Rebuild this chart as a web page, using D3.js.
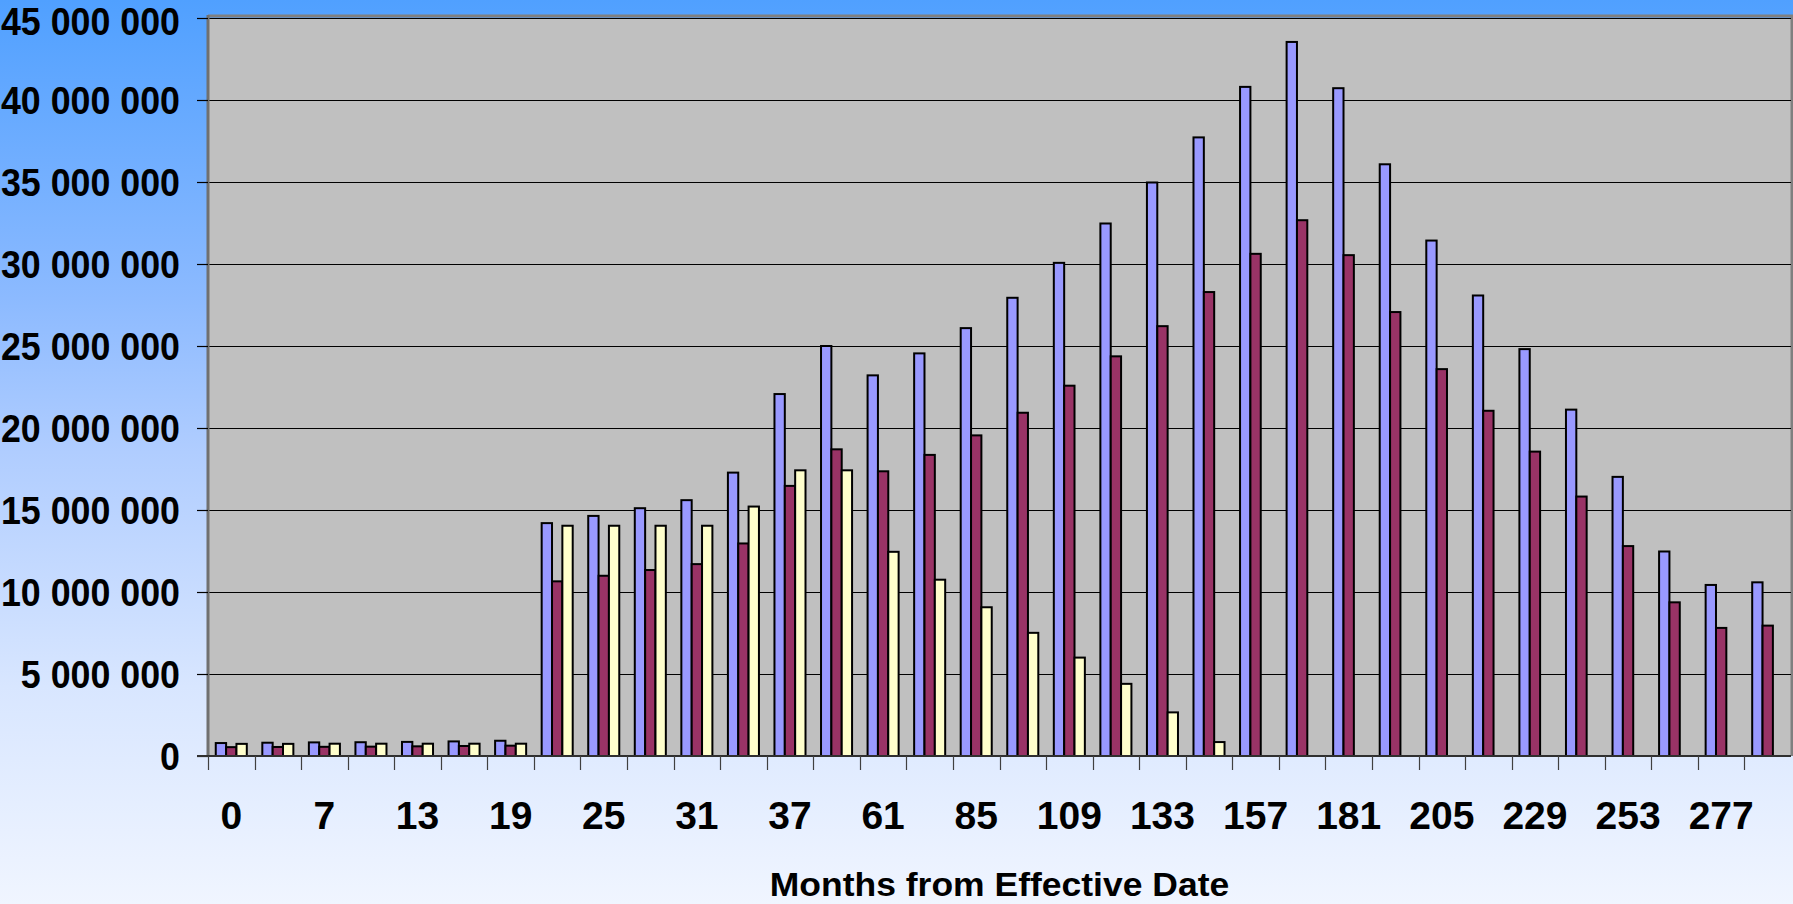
<!DOCTYPE html>
<html>
<head>
<meta charset="utf-8">
<script src="https://cdn.jsdelivr.net/npm/d3@7"></script>
<style>
  html, body { margin: 0; padding: 0; overflow: hidden; }
  svg { display: block; }
  text { font-family: "Liberation Sans", Arial, sans-serif; font-weight: bold; fill: #000; }
</style>
</head>
<body>
<svg id="chart" width="1793" height="904"></svg>
<script>
// Months from effective date (one group of bars per month)
const months = [0, 4, 7, 10, 13, 16, 19, 22, 25, 28, 31, 34, 37, 49, 61, 73, 85, 97,
                109, 121, 133, 145, 157, 169, 181, 193, 205, 217, 229, 241, 253, 265, 277, 289];

// Series values (in units)
const series1 = [790000, 810000, 830000, 840000, 860000, 890000, 930000,
                 14200000, 14640000, 15110000, 15600000, 17280000, 22070000, 25000000,
                 23210000, 24550000, 26090000, 27940000, 30070000, 32470000, 34970000,
                 37720000, 40800000, 43540000, 40720000, 36080000, 31430000, 28080000,
                 24810000, 21120000, 17020000, 12470000, 10430000, 10590000];
const series2 = [540000, 550000, 560000, 570000, 590000, 610000, 630000,
                 10650000, 10990000, 11340000, 11700000, 12960000, 16470000, 18700000,
                 17360000, 18360000, 19550000, 20930000, 22580000, 24370000, 26210000,
                 28290000, 30620000, 32670000, 30540000, 27070000, 23590000, 21050000,
                 18560000, 15820000, 12800000, 9370000, 7810000, 7950000];
const series3 = [740000, 740000, 750000, 750000, 750000, 750000, 750000,
                 14040000, 14040000, 14040000, 14040000, 15210000, 17420000, 17420000,
                 12450000, 10750000, 9070000, 7510000, 6000000, 4400000, 2660000,
                 850000, null, null, null, null, null, null,
                 null, null, null, null, null, null];

const seriesColors = ["#9999FF", "#993366", "#FFFFCC"];
const yTicks = [0, 5000000, 10000000, 15000000, 20000000, 25000000, 30000000, 35000000, 40000000, 45000000];
const xTitle = "Months from Effective Date";

const W = 1793, H = 904;
const plot = { left: 208, right: 1791, top: 18, bottom: 756 };

const svg = d3.select("#chart");

// Background gradient
const defs = svg.append("defs");
const grad = defs.append("linearGradient").attr("id", "bg")
  .attr("x1", 0).attr("y1", 0).attr("x2", 0).attr("y2", 1);
[[0, "#50A0FF"], [0.33, "#8CBAFF"], [0.5, "#B0CDFF"], [0.76, "#D8E6FF"], [1, "#F0F5FF"]]
  .forEach(([o, c]) => grad.append("stop").attr("offset", o).attr("stop-color", c));
svg.append("rect").attr("width", W).attr("height", H).attr("fill", "url(#bg)");

// Scales
const x = d3.scaleBand().domain(months).range([plot.left, plot.right]).paddingInner(0).paddingOuter(0);
const xs = d3.scaleBand().domain([0, 1, 2]).range([0, x.bandwidth()]).paddingInner(0).paddingOuter(0.75);
const y = d3.scaleLinear().domain([0, 45000000]).range([plot.bottom, plot.top]);

// Plot area
svg.append("rect")
  .attr("x", plot.left).attr("y", plot.top)
  .attr("width", plot.right - plot.left).attr("height", plot.bottom - plot.top)
  .attr("fill", "#C0C0C0");
// plot border (top and right)
svg.append("path")
  .attr("d", `M${plot.left},${plot.top - 2}H${plot.right + 1}V${plot.bottom}`)
  .attr("fill", "none").attr("stroke", "#808080").attr("stroke-width", 3);

// Gridlines
svg.append("g").selectAll("line").data(yTicks.filter(d => d > 0)).join("line")
  .attr("x1", plot.left).attr("x2", plot.right)
  .attr("y1", d => Math.round(y(d)) + 0.5).attr("y2", d => Math.round(y(d)) + 0.5)
  .attr("stroke", "#000").attr("stroke-width", 1.2);

// Bars
const allSeries = [series1, series2, series3];
allSeries.forEach((vals, si) => {
  svg.append("g").selectAll("rect")
    .data(months.map((m, i) => ({ m, v: vals[i] })).filter(d => d.v != null))
    .join("rect")
    .attr("x", d => x(d.m) + xs(si))
    .attr("y", d => y(d.v))
    .attr("width", xs.bandwidth())
    .attr("height", d => y(0) - y(d.v))
    .attr("fill", seriesColors[si])
    .attr("stroke", "#000").attr("stroke-width", 2);
});

// Y axis
const fmt = d => d3.format(",")(d).replace(/,/g, " ");
const yAxis = svg.append("g");
yAxis.append("line")
  .attr("x1", plot.left).attr("x2", plot.left)
  .attr("y1", plot.top - 3).attr("y2", plot.bottom)
  .attr("stroke", "#707070").attr("stroke-width", 3);
yAxis.selectAll("line.tick").data(yTicks).join("line").attr("class", "tick")
  .attr("x1", 197).attr("x2", plot.left)
  .attr("y1", d => Math.round(y(d)) + 0.5).attr("y2", d => Math.round(y(d)) + 0.5)
  .attr("stroke", "#000").attr("stroke-width", 1.2);
yAxis.selectAll("text").data(yTicks).join("text")
  .attr("transform", d => `translate(180,${Math.max(y(d) + 13.5, 35)}) scale(0.93,1)`)
  .attr("text-anchor", "end")
  .style("font-size", "38.5px")
  .text(fmt);

// X axis
const xAxis = svg.append("g");
xAxis.append("line")
  .attr("x1", plot.left - 11).attr("x2", plot.right)
  .attr("y1", plot.bottom).attr("y2", plot.bottom)
  .attr("stroke", "#303030").attr("stroke-width", 2);
const tickPos = months.map(m => x(m));
xAxis.selectAll("line.tick").data(tickPos).join("line").attr("class", "tick")
  .attr("x1", d => Math.round(d) + 0.5).attr("x2", d => Math.round(d) + 0.5)
  .attr("y1", plot.bottom).attr("y2", plot.bottom + 14)
  .attr("stroke", "#404040").attr("stroke-width", 1.2);
xAxis.selectAll("text").data(months.filter((m, i) => i % 2 === 0)).join("text")
  .attr("transform", d => `translate(${x(d) + x.bandwidth() / 2},829)`)
  .attr("text-anchor", "middle")
  .style("font-size", "39px")
  .text(d => d);

// Axis title
svg.append("text")
  .attr("transform", `translate(${(plot.left + plot.right) / 2},896) scale(1.06,1)`)
  .attr("text-anchor", "middle")
  .style("font-size", "33.5px")
  .text(xTitle);
</script>
</body>
</html>
